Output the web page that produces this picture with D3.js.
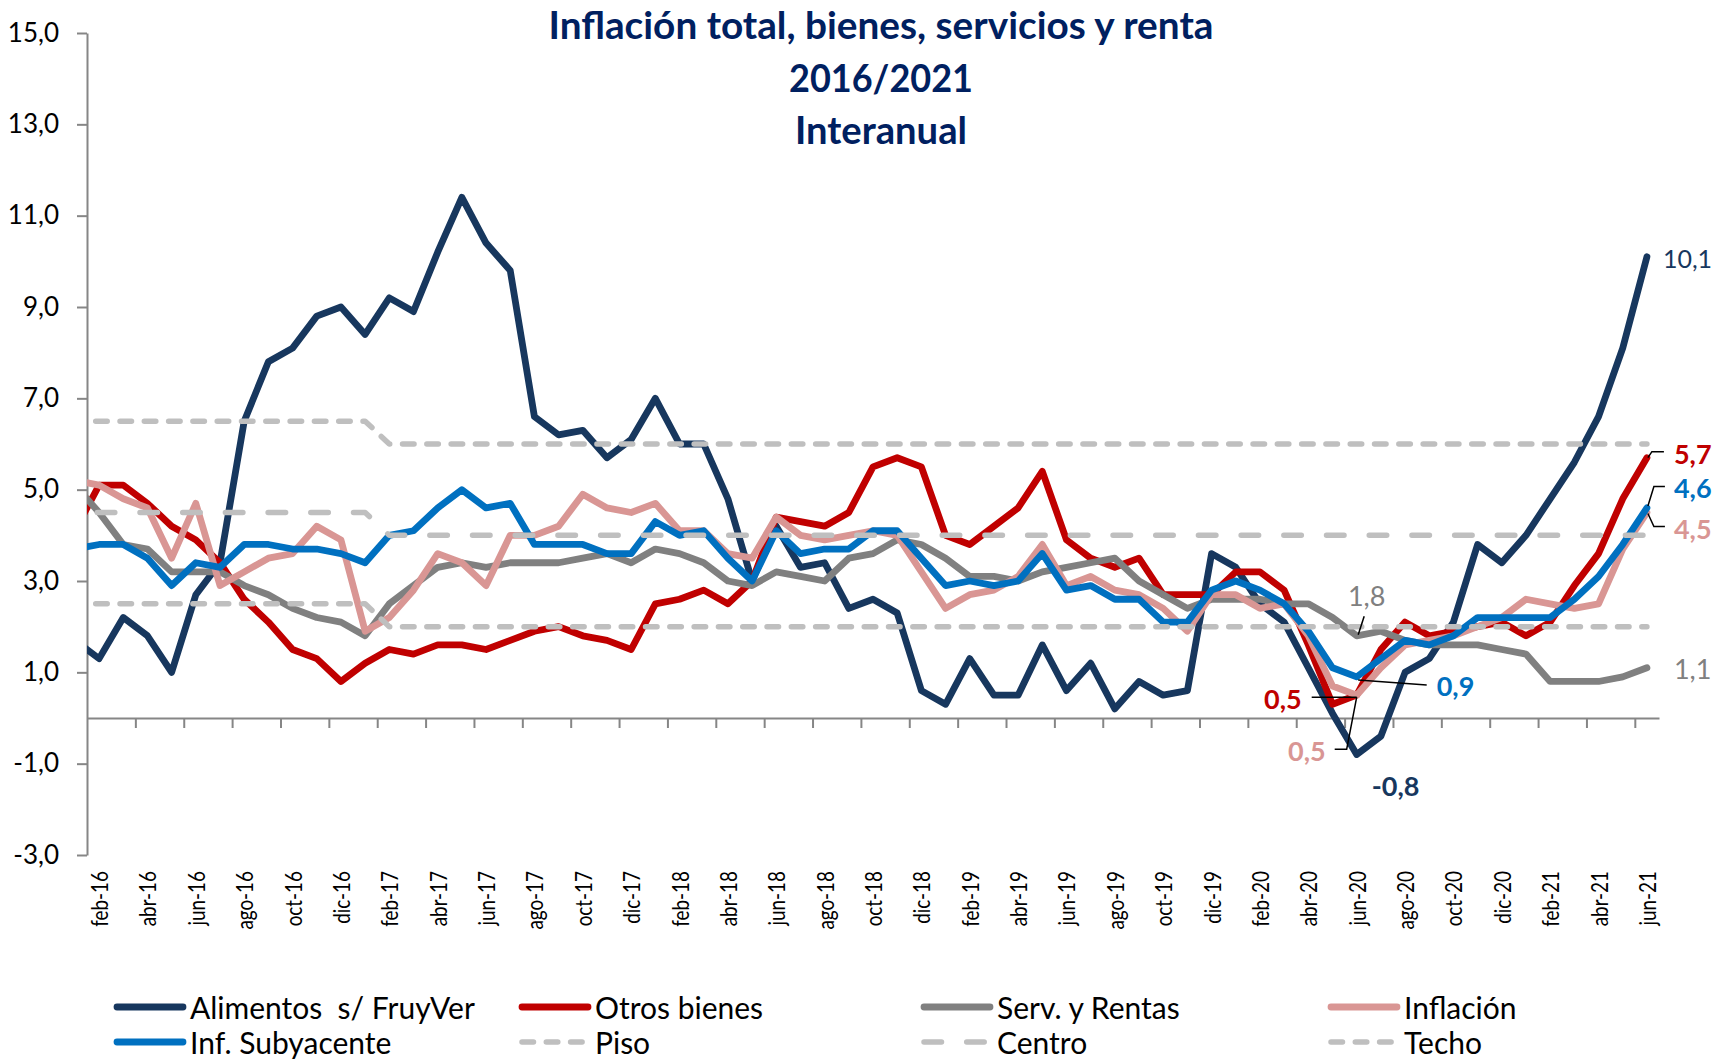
<!DOCTYPE html>
<html lang="es">
<head>
<meta charset="UTF-8">
<title>Inflación total, bienes, servicios y renta 2016/2021</title>
<script src="https://d3js.org/d3.v7.min.js"></script>
<style>
  body { margin: 0; background: #fff; }
  svg { display: block; font-family: Lato, 'Open Sans', sans-serif; }
  .axis path, .axis line { stroke: #868686; stroke-width: 2px; }
  .serie { fill: none; stroke-linejoin: round; stroke-linecap: round; }
</style>
</head>
<body>
<svg id="chart" width="1714" height="1059"></svg>
<script>
// meses: ene-16 queda fuera del eje (solo se ve el tramo que entra por la izquierda)
const meses = [
  "ene-16","feb-16","mar-16","abr-16","may-16","jun-16","jul-16","ago-16","sep-16","oct-16","nov-16","dic-16",
  "ene-17","feb-17","mar-17","abr-17","may-17","jun-17","jul-17","ago-17","sep-17","oct-17","nov-17","dic-17",
  "ene-18","feb-18","mar-18","abr-18","may-18","jun-18","jul-18","ago-18","sep-18","oct-18","nov-18","dic-18",
  "ene-19","feb-19","mar-19","abr-19","may-19","jun-19","jul-19","ago-19","sep-19","oct-19","nov-19","dic-19",
  "ene-20","feb-20","mar-20","abr-20","may-20","jun-20","jul-20","ago-20","sep-20","oct-20","nov-20","dic-20",
  "ene-21","feb-21","mar-21","abr-21","may-21","jun-21"
];

const alimentos = [
  1.7, 1.3, 2.2, 1.8, 1.0, 2.7, 3.4, 6.5, 7.8, 8.1, 8.8, 9.0,
  8.4, 9.2, 8.9, 10.2, 11.4, 10.4, 9.8, 6.6, 6.2, 6.3, 5.7, 6.1,
  7.0, 6.0, 6.0, 4.8, 3.0, 4.2, 3.3, 3.4, 2.4, 2.6, 2.3, 0.6,
  0.3, 1.3, 0.5, 0.5, 1.6, 0.6, 1.2, 0.2, 0.8, 0.5, 0.6, 3.6,
  3.3, 2.5, 2.1, 1.1, 0.1, -0.8, -0.4, 1.0, 1.3, 2.1, 3.8, 3.4,
  4.0, 4.8, 5.6, 6.6, 8.1, 10.1
];
const otrosBienes = [
  4.1, 5.1, 5.1, 4.7, 4.2, 3.9, 3.4, 2.6, 2.1, 1.5, 1.3, 0.8,
  1.2, 1.5, 1.4, 1.6, 1.6, 1.5, 1.7, 1.9, 2.0, 1.8, 1.7, 1.5,
  2.5, 2.6, 2.8, 2.5, 3.0, 4.4, 4.3, 4.2, 4.5, 5.5, 5.7, 5.5,
  4.0, 3.8, 4.2, 4.6, 5.4, 3.9, 3.5, 3.3, 3.5, 2.7, 2.7, 2.7,
  3.2, 3.2, 2.8, 1.6, 0.3, 0.5, 1.5, 2.1, 1.8, 1.9, 2.0, 2.1,
  1.8, 2.1, 2.9, 3.6, 4.8, 5.7
];
const servRentas = [
  5.1, 4.5, 3.8, 3.7, 3.2, 3.2, 3.2, 2.9, 2.7, 2.4, 2.2, 2.1,
  1.8, 2.5, 2.9, 3.3, 3.4, 3.3, 3.4, 3.4, 3.4, 3.5, 3.6, 3.4,
  3.7, 3.6, 3.4, 3.0, 2.9, 3.2, 3.1, 3.0, 3.5, 3.6, 3.9, 3.8,
  3.5, 3.1, 3.1, 3.0, 3.2, 3.3, 3.4, 3.5, 3.0, 2.7, 2.4, 2.6,
  2.6, 2.6, 2.5, 2.5, 2.2, 1.8, 1.9, 1.7, 1.6, 1.6, 1.6, 1.5,
  1.4, 0.8, 0.8, 0.8, 0.9, 1.1
];
const inflacion = [
  5.2, 5.1, 4.8, 4.6, 3.5, 4.7, 2.9, 3.2, 3.5, 3.6, 4.2, 3.9,
  1.9, 2.2, 2.8, 3.6, 3.4, 2.9, 4.0, 4.0, 4.2, 4.9, 4.6, 4.5,
  4.7, 4.1, 4.1, 3.6, 3.5, 4.4, 4.0, 3.9, 4.0, 4.1, 4.0, 3.2,
  2.4, 2.7, 2.8, 3.1, 3.8, 2.9, 3.1, 2.8, 2.7, 2.4, 1.9, 2.7,
  2.7, 2.4, 2.5, 1.8, 0.7, 0.5, 1.1, 1.6, 1.7, 1.8, 2.0, 2.2,
  2.6, 2.5, 2.4, 2.5, 3.7, 4.5
];
const subyacente = [
  3.7, 3.8, 3.8, 3.5, 2.9, 3.4, 3.3, 3.8, 3.8, 3.7, 3.7, 3.6,
  3.4, 4.0, 4.1, 4.6, 5.0, 4.6, 4.7, 3.8, 3.8, 3.8, 3.6, 3.6,
  4.3, 4.0, 4.1, 3.5, 3.0, 4.1, 3.6, 3.7, 3.7, 4.1, 4.1, 3.5,
  2.9, 3.0, 2.9, 3.0, 3.6, 2.8, 2.9, 2.6, 2.6, 2.1, 2.1, 2.8,
  3.0, 2.8, 2.5, 1.9, 1.1, 0.9, 1.3, 1.7, 1.6, 1.8, 2.2, 2.2,
  2.2, 2.2, 2.6, 3.1, 3.8, 4.6
];
const piso = [
  2.5, 2.5, 2.5, 2.5, 2.5, 2.5, 2.5, 2.5, 2.5, 2.5, 2.5, 2.5,
  2.5, 2.0, 2.0, 2.0, 2.0, 2.0, 2.0, 2.0, 2.0, 2.0, 2.0, 2.0,
  2.0, 2.0, 2.0, 2.0, 2.0, 2.0, 2.0, 2.0, 2.0, 2.0, 2.0, 2.0,
  2.0, 2.0, 2.0, 2.0, 2.0, 2.0, 2.0, 2.0, 2.0, 2.0, 2.0, 2.0,
  2.0, 2.0, 2.0, 2.0, 2.0, 2.0, 2.0, 2.0, 2.0, 2.0, 2.0, 2.0,
  2.0, 2.0, 2.0, 2.0, 2.0, 2.0
];
const centro = [
  4.5, 4.5, 4.5, 4.5, 4.5, 4.5, 4.5, 4.5, 4.5, 4.5, 4.5, 4.5,
  4.5, 4.0, 4.0, 4.0, 4.0, 4.0, 4.0, 4.0, 4.0, 4.0, 4.0, 4.0,
  4.0, 4.0, 4.0, 4.0, 4.0, 4.0, 4.0, 4.0, 4.0, 4.0, 4.0, 4.0,
  4.0, 4.0, 4.0, 4.0, 4.0, 4.0, 4.0, 4.0, 4.0, 4.0, 4.0, 4.0,
  4.0, 4.0, 4.0, 4.0, 4.0, 4.0, 4.0, 4.0, 4.0, 4.0, 4.0, 4.0,
  4.0, 4.0, 4.0, 4.0, 4.0, 4.0
];
const techo = [
  6.5, 6.5, 6.5, 6.5, 6.5, 6.5, 6.5, 6.5, 6.5, 6.5, 6.5, 6.5,
  6.5, 6.0, 6.0, 6.0, 6.0, 6.0, 6.0, 6.0, 6.0, 6.0, 6.0, 6.0,
  6.0, 6.0, 6.0, 6.0, 6.0, 6.0, 6.0, 6.0, 6.0, 6.0, 6.0, 6.0,
  6.0, 6.0, 6.0, 6.0, 6.0, 6.0, 6.0, 6.0, 6.0, 6.0, 6.0, 6.0,
  6.0, 6.0, 6.0, 6.0, 6.0, 6.0, 6.0, 6.0, 6.0, 6.0, 6.0, 6.0,
  6.0, 6.0, 6.0, 6.0, 6.0, 6.0
];

const yTicks = [-3, -1, 1, 3, 5, 7, 9, 11, 13, 15];
const titulo = ["Inflación total, bienes, servicios y renta", "2016/2021", "Interanual"];

const series = [
  { name: "Alimentos  s/ FruyVer", values: alimentos, color: "#17375e" },
  { name: "Otros bienes", values: otrosBienes, color: "#c00000" },
  { name: "Serv. y Rentas", values: servRentas, color: "#808080" },
  { name: "Inflación", values: inflacion, color: "#d99694" },
  { name: "Inf. Subyacente", values: subyacente, color: "#0070c0" },
  { name: "Piso", values: piso, color: "#bfbfbf", dash: "11.5 12.8", offset: 3.5 },
  { name: "Centro", values: centro, color: "#bfbfbf", dash: "17.5 25.2", offset: 20.3 },
  { name: "Techo", values: techo, color: "#bfbfbf", dash: "11.5 12.8", offset: 3.5 }
];

const svg = d3.select('#chart');
const fmt = v => d3.format('.1f')(v).replace('.', ',').replace('\u2212', '-');

const x = d3.scaleLinear().domain([0.5, meses.length - 0.5]).range([87, 1659]);
const y = d3.scaleLinear().domain([-3, 15]).range([855, 33]);

svg.append('defs').append('clipPath').attr('id', 'plot')
  .append('rect').attr('x', x(0.5)).attr('y', 0).attr('width', 1714).attr('height', 1059);

// titulo
svg.append('g').selectAll('text')
  .data(titulo)
  .enter().append('text')
  .attr('x', 881)
  .attr('y', (d, i) => 39 + i * 52.5)
  .attr('text-anchor', 'middle')
  .attr('font-size', 38)
  .attr('font-weight', 'bold')
  .attr('fill', '#002060')
  .attr('textLength', (d, i) => [665, 184, 172][i])
  .attr('lengthAdjust', 'spacingAndGlyphs')
  .text(d => d);

// eje y
const yAxis = d3.axisLeft(y)
  .tickValues(yTicks)
  .tickSize(10)
  .tickSizeOuter(0)
  .tickPadding(18)
  .tickFormat(fmt);
const gy = svg.append('g')
  .attr('class', 'axis')
  .attr('transform', 'translate(' + x(0.5) + ',0)')
  .call(yAxis);
gy.selectAll('text').attr('font-size', 26).attr('font-family', 'Lato, sans-serif').attr('fill', '#000');

// eje x: marcas cada dos meses, etiquetas abajo
const etiquetas = meses.map((m, i) => i).filter(i => i % 2 === 1);
const xAxis = d3.axisBottom(x)
  .tickValues(etiquetas.filter(i => i > 1).map(i => i - 0.5))
  .tickSize(10)
  .tickSizeOuter(0)
  .tickFormat('');
svg.append('g')
  .attr('class', 'axis')
  .attr('transform', 'translate(0,' + y(0) + ')')
  .call(xAxis);

const xl = svg.append('g').selectAll('text')
  .data(etiquetas)
  .enter().append('text')
  .attr('transform', i => 'translate(' + x(i) + ',871) rotate(-90)')
  .attr('text-anchor', 'end')
  .attr('dominant-baseline', 'central')
  .attr('font-size', 23)
  .attr('fill', '#000')
  .text(i => meses[i]);
// letra mas estrecha, como en el original
xl.each(function() {
  const w = this.getComputedTextLength();
  d3.select(this).attr('textLength', w * 0.82).attr('lengthAdjust', 'spacingAndGlyphs');
});

// lineas
const line = d3.line()
  .x((d, i) => x(i))
  .y(d => y(d));

svg.append('g')
  .attr('clip-path', 'url(#plot)')
  .selectAll('path')
  .data(series)
  .enter().append('path')
  .attr('class', 'serie')
  .attr('d', d => line(d.values))
  .attr('stroke', d => d.color)
  .attr('stroke-width', d => d.dash ? 5.5 : 6.8)
  .attr('stroke-dasharray', d => d.dash || null)
  .attr('stroke-dashoffset', d => d.offset || null);

// rotulos de valores
const last = meses.length - 1;
const jun20 = meses.indexOf('jun-20');
const rotulos = [
  { s: 0, i: last, dx: 16, dy: 1, anchor: 'start', bold: false, size: 25 },
  { s: 1, i: last, dx: 27, dy: -4, anchor: 'start', bold: true, lead: [[1, 0], [5, -6], [17, -6]] },
  { s: 4, i: last, dx: 27, dy: -20, anchor: 'start', bold: true, lead: [[1, -2], [7, -21.5], [18, -21.5]] },
  { s: 3, i: last, dx: 27, dy: 16, anchor: 'start', bold: true, lead: [[1, 1], [7, 14], [18, 14]] },
  { s: 2, i: last, dx: 27, dy: 1, anchor: 'start', bold: false },
  { s: 2, i: jun20, dx: 10, dy: -40, anchor: 'middle', bold: false, lead: [[1.5, -1], [7.5, -19.5]] },
  { s: 4, i: jun20, dx: 80, dy: 8.5, anchor: 'start', bold: true, lead: [[1.5, 3], [70, 8]] },
  { s: 1, i: jun20, dx: -55, dy: 3.5, anchor: 'end', bold: true, lead: [[-45, 2], [0, 2]] },
  { s: 3, i: jun20, dx: -31, dy: 55, anchor: 'end', bold: true, lead: [[0, 2], [-10, 54], [-22, 54]] },
  { s: 0, i: jun20, dx: 15, dy: 31, anchor: 'start', bold: true }
];

const gr = svg.append('g');
rotulos.forEach(r => {
  const px = x(r.i), py = y(series[r.s].values[r.i]);
  if (r.lead) {
    gr.append('path')
      .attr('d', d3.line()(r.lead.map(p => [px + p[0], py + p[1]])))
      .attr('fill', 'none')
      .attr('stroke', '#000')
      .attr('stroke-width', 1.5);
  }
  gr.append('text')
    .attr('x', px + r.dx)
    .attr('y', py + r.dy)
    .attr('text-anchor', r.anchor)
    .attr('dominant-baseline', 'central')
    .attr('font-size', r.size || 27)
    .attr('font-weight', r.bold ? 'bold' : 'normal')
    .attr('fill', series[r.s].color)
    .text(fmt(series[r.s].values[r.i]));
});

// leyenda
const colX = [114, 519, 921, 1328];
const rowY = [1007, 1042];
const leg = svg.append('g').selectAll('g')
  .data(series)
  .enter().append('g')
  .attr('transform', (d, i) => 'translate(' + colX[i % 4] + ',' + rowY[Math.floor(i / 4)] + ')');
leg.append('line')
  .attr('x1', 3).attr('x2', 69)
  .attr('stroke', d => d.color)
  .attr('stroke-width', d => d.dash ? 5.5 : 6.8)
  .attr('stroke-linecap', 'round')
  .attr('stroke-dasharray', d => d.dash || null);
leg.append('text')
  .attr('x', 76)
  .attr('dominant-baseline', 'central')
  .attr('font-size', 30)
  .attr('fill', '#000')
  .style('white-space', 'pre')
  .text(d => d.name);
</script>
</body>
</html>
